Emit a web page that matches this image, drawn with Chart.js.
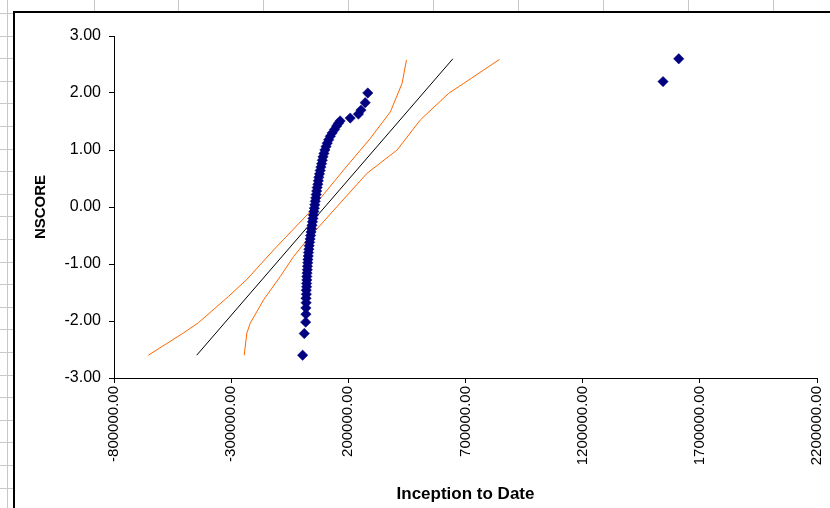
<!DOCTYPE html>
<html>
<head>
<meta charset="utf-8">
<script src="https://cdn.jsdelivr.net/npm/chart.js@4"></script>
<style>
  html, body { margin: 0; padding: 0; background: #fff; }
  canvas { display: block; }
</style>
</head>
<body>
<canvas id="npp" width="830" height="508"></canvas>
<script>
// observed values (Inception to Date) with their normal scores
const obsNscore = [
  -2.60, -2.22, -2.02, -1.88, -1.77, -1.68, -1.60, -1.53, -1.46, -1.40,
  -1.34, -1.28, -1.22, -1.16, -1.10, -1.04, -0.98, -0.92, -0.86, -0.80,
  -0.74, -0.68, -0.62, -0.56, -0.50, -0.44, -0.38, -0.32, -0.26, -0.20,
  -0.14, -0.08, -0.02, 0.04, 0.10, 0.16, 0.22, 0.28, 0.34, 0.40,
  0.46, 0.52, 0.58, 0.64, 0.70, 0.76, 0.82, 0.88, 0.94, 1.00,
  1.06, 1.12, 1.18, 1.24, 1.30, 1.36, 1.42, 1.47, 1.51, 1.56,
  1.63, 1.70, 1.83, 2.00, 2.20, 2.60
];
const obsValue = [
  5000, 12000, 18000, 19000, 19000, 20000, 19500, 21000, 20500, 22000,
  22000, 23000, 23000, 24000, 25000, 25500, 27000, 27500, 29000, 30000,
  31500, 33000, 35000, 37000, 39000, 41000, 43000, 45000, 47000, 49000,
  51000, 53000, 55000, 57000, 59000, 61000, 63000, 65000, 67000, 70000,
  72000, 74000, 77000, 80000, 83000, 86000, 89000, 92000, 96000, 100000,
  105000, 110000, 116000, 123000, 131000, 141000, 150000, 158000, 165000, 208000,
  243000, 254000, 272000, 283000, 1543000, 1610000
];

// fitted normal line
const fitValue = [-447000, 646000];
const fitNscore = [-2.60, 2.60];

// upper confidence band
const upperValue = [-653500, -503700, -439700, -311600, -233000, -119200, 30300, 80300, 180000, 294000, 379500, 429500, 448000];
const upperNscore = [-2.60, -2.21, -2.03, -1.57, -1.27, -0.755, -0.11, 0.15, 0.65, 1.205, 1.67, 2.17, 2.58];

// lower confidence band
const lowerValue = [-244400, -233000, -218800, -161900, -90600, -33800, 23500, 151300, 279500, 408000, 507700, 628500, 692700, 845300];
const lowerNscore = [-2.60, -2.21, -2.04, -1.63, -1.22, -0.87, -0.58, 0.005, 0.59, 1.00, 1.53, 1.995, 2.17, 2.59];

const xTicks = [-800000, -300000, 200000, 700000, 1200000, 1700000, 2200000];
const yTicks = [-3, -2, -1, 0, 1, 2, 3];

function pairs(xs, ys) {
    return xs.map((x, i) => ({ x: x, y: ys[i] }));
}

// spreadsheet look behind the chart object
const sheetBg = {
    id: 'sheetBg',
    beforeDraw(chart) {
        const c = chart.ctx;
        c.save();
        c.fillStyle = '#fff';
        c.fillRect(0, 0, chart.width, chart.height);
        c.strokeStyle = '#c8c8c8';
        c.lineWidth = 1;
        // column lines above the chart
        [94, 178, 263, 348, 433, 518, 603, 688, 773].forEach(x => {
            c.beginPath();
            c.moveTo(x + 0.5, 0);
            c.lineTo(x + 0.5, 12);
            c.stroke();
        });
        // row lines in the left gutter
        c.beginPath();
        c.moveTo(7.5, 0);
        c.lineTo(7.5, chart.height);
        c.stroke();
        for (let y = 13; y < chart.height; y += 22.6) {
            c.beginPath();
            c.moveTo(0, Math.round(y) + 0.5);
            c.lineTo(13, Math.round(y) + 0.5);
            c.stroke();
        }
        // chart object border
        c.fillStyle = '#fff';
        c.fillRect(14, 12, chart.width, chart.height);
        c.strokeStyle = '#000';
        c.lineWidth = 2;
        c.beginPath();
        c.moveTo(14, chart.height);
        c.lineTo(14, 12);
        c.lineTo(chart.width, 12);
        c.stroke();
        c.restore();
    }
};

const ctx = document.getElementById('npp').getContext('2d');

const chart = new Chart(ctx, {
    type: 'scatter',
    data: {
        datasets: [
            {
                label: 'Inception to Date',
                data: pairs(obsValue, obsNscore),
                pointStyle: 'rectRot',
                pointRadius: 5.2,
                pointBackgroundColor: '#000080',
                pointBorderColor: '#000080',
                pointBorderWidth: 0.5
            },
            {
                label: 'Fit',
                data: pairs(fitValue, fitNscore),
                showLine: true,
                borderColor: '#000000',
                borderWidth: 1,
                pointRadius: 0
            },
            {
                label: 'Upper',
                data: pairs(upperValue, upperNscore),
                showLine: true,
                borderColor: '#FF6600',
                borderWidth: 1,
                pointRadius: 0
            },
            {
                label: 'Lower',
                data: pairs(lowerValue, lowerNscore),
                showLine: true,
                borderColor: '#FF6600',
                borderWidth: 1,
                pointRadius: 0
            }
        ]
    },
    options: {
        responsive: false,
        animation: false,
        devicePixelRatio: 1,
        layout: { padding: { top: 36, right: 13, bottom: 3, left: 0 } },
        plugins: {
            legend: { display: false },
            tooltip: { enabled: false }
        },
        scales: {
            x: {
                type: 'linear',
                min: xTicks[0],
                max: xTicks[xTicks.length - 1],
                afterBuildTicks: (scale) => { scale.ticks = xTicks.map(v => ({ value: v })); },
                afterFit: (scale) => {
                    scale.height = 127;
                    scale.paddingRight = 0;
                    scale.paddingLeft = 0;
                },
                border: { display: true, color: '#000', width: 1 },
                grid: { drawOnChartArea: false, color: '#000', tickLength: 5 },
                ticks: {
                    autoSkip: false,
                    maxRotation: 90,
                    minRotation: 90,
                    padding: 3,
                    color: '#000',
                    font: { family: "'Liberation Sans', Arial, sans-serif", size: 15 },
                    callback: (v) => Number(v).toFixed(2)
                },
                title: {
                    display: true,
                    text: 'Inception to Date',
                    color: '#000',
                    padding: { top: 0, bottom: 0 },
                    font: { family: "'Liberation Sans', Arial, sans-serif", size: 17, weight: 'bold' }
                }
            },
            y: {
                type: 'linear',
                min: yTicks[0],
                max: yTicks[yTicks.length - 1],
                afterBuildTicks: (scale) => { scale.ticks = yTicks.map(v => ({ value: v })); },
                afterFit: (scale) => { scale.width = 114; },
                border: { display: true, color: '#000', width: 1 },
                grid: { drawOnChartArea: false, color: '#000', tickLength: 5 },
                ticks: {
                    padding: 8,
                    color: '#000',
                    font: { family: "'Liberation Sans', Arial, sans-serif", size: 16 },
                    callback: (v) => Number(v).toFixed(2)
                },
                title: {
                    display: true,
                    text: 'NSCORE',
                    color: '#000',
                    padding: { top: 32, bottom: 0 },
                    font: { family: "'Liberation Sans', Arial, sans-serif", size: 15, weight: 'bold' }
                }
            }
        }
    },
    plugins: [sheetBg]
});
</script>
</body>
</html>
